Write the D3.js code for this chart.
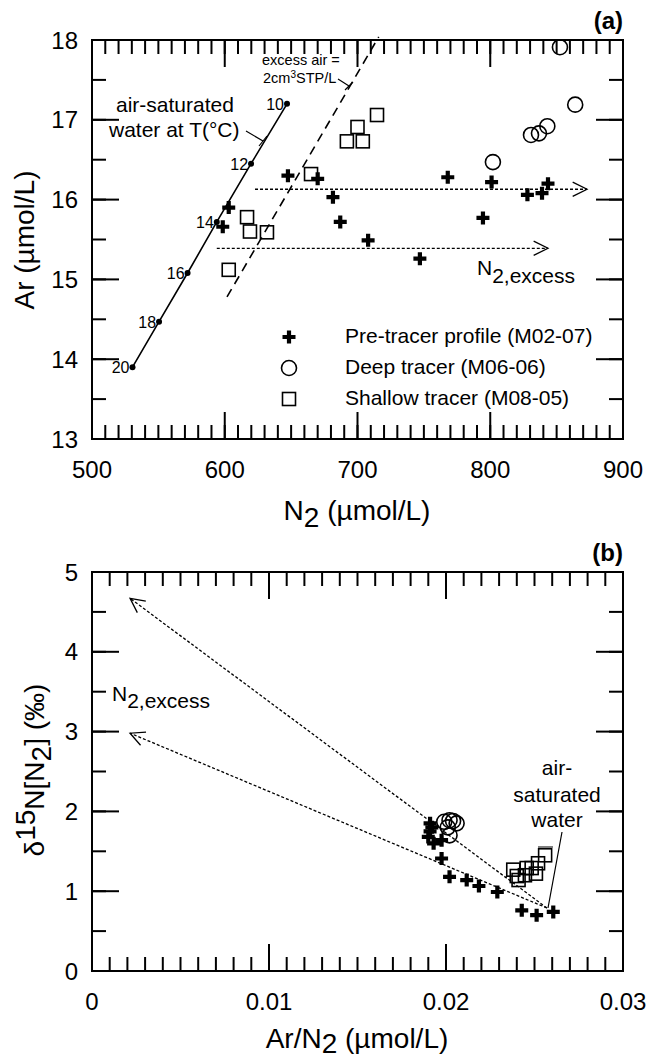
<!DOCTYPE html>
<html>
<head>
<meta charset="utf-8">
<script src="https://cdn.jsdelivr.net/npm/d3@7"></script>
<style>
body { margin: 0; background: #fff; }
</style>
</head>
<body>
<svg id="chart" width="646" height="1059" font-family="Liberation Sans, Arial, sans-serif"></svg>
<script>
// ---- panel (a): Ar vs N2 ----
var preN2 = [598.5, 603, 647.6, 670, 681.5, 687, 708, 747, 768, 794.5, 801, 828, 839, 843.5]
var preAr = [15.66, 15.9, 16.3, 16.26, 16.03, 15.72, 15.49, 15.26, 16.28, 15.77, 16.22, 16.06, 16.08, 16.2]
var deepN2 = [802, 830.7, 836.7, 843, 852.5, 864]
var deepAr = [16.47, 16.81, 16.83, 16.92, 17.91, 17.19]
var shallowN2 = [603, 616.8, 619, 631.8, 665, 692, 700, 704, 714.7]
var shallowAr = [15.12, 15.78, 15.6, 15.59, 16.32, 16.73, 16.91, 16.73, 17.06]
var aswT = [10, 12, 14, 16, 18, 20]
var aswN2 = [646.9, 619.8, 594, 572, 550.5, 530.5]
var aswAr = [17.2, 16.45, 15.72, 15.08, 14.47, 13.9]
var excessAirN2 = [601.7, 716]
var excessAirAr = [14.78, 18.04]
var arrowStartN2 = [622.8, 594]
var arrowEndN2 = [872.9, 843.5]
var arrowAr = [16.13, 15.39]
var xTicksA = [500, 600, 700, 800, 900]
var yTicksA = [13, 14, 15, 16, 17, 18]

// ---- panel (b): d15N vs Ar/N2 ----
var preRatio = [0.0191, 0.0192, 0.0191, 0.0190, 0.0193, 0.01975, 0.01975, 0.0202, 0.02117, 0.02186, 0.0229, 0.02428, 0.02512, 0.02606]
var preD15 = [1.85, 1.80, 1.75, 1.68, 1.60, 1.64, 1.41, 1.18, 1.14, 1.065, 0.99, 0.76, 0.70, 0.74]
var deepRatio = [0.0199, 0.0202, 0.0204, 0.0206, 0.0202, 0.0201]
var deepD15 = [1.87, 1.89, 1.88, 1.85, 1.70, 1.80]
var shallowRatio = [0.0238, 0.0240, 0.0241, 0.02446, 0.02456, 0.02484, 0.02508, 0.0252, 0.0256]
var shallowD15 = [1.27, 1.19, 1.14, 1.20, 1.29, 1.29, 1.22, 1.35, 1.45]
var excessFromRatio = 0.0257, excessFromD15 = 0.79
var excessToRatio = [0.00215, 0.00215]
var excessToD15 = [4.67, 2.98]
var xTicksB = [0, 0.01, 0.02, 0.03]
var xLabelsB = ["0", "0.01", "0.02", "0.03"]
var yTicksB = [0, 1, 2, 3, 4, 5]

var legendLabels = ["Pre-tracer profile (M02-07)", "Deep tracer (M06-06)", "Shallow tracer (M08-05)"]

var svg = d3.select("#chart")

var xa = d3.scaleLinear().domain([500, 900]).range([92, 623])
var ya = d3.scaleLinear().domain([13, 18]).range([439, 40])
var xb = d3.scaleLinear().domain([0, 0.03]).range([92, 623])
var yb = d3.scaleLinear().domain([0, 5]).range([971, 572])

// frame: inward ticks on all four sides, outline, tick labels
function frame(xs, ys, xMajor, yMajor, xMinorN, yMinorN, xLabels) {
  var g = svg.append("g")
  var x0 = xs.range()[0], x1 = xs.range()[1], y0 = ys.range()[0], y1 = ys.range()[1]
  function tickX(v, len) {
    g.append("line").attr("x1", xs(v)).attr("x2", xs(v)).attr("y1", y0).attr("y2", y0 - len).attr("stroke", "#000").attr("stroke-width", 2)
    g.append("line").attr("x1", xs(v)).attr("x2", xs(v)).attr("y1", y1).attr("y2", y1 + len).attr("stroke", "#000").attr("stroke-width", 2)
  }
  function tickY(v, len) {
    g.append("line").attr("y1", ys(v)).attr("y2", ys(v)).attr("x1", x0).attr("x2", x0 + len).attr("stroke", "#000").attr("stroke-width", 2)
    g.append("line").attr("y1", ys(v)).attr("y2", ys(v)).attr("x1", x1).attr("x2", x1 - len).attr("stroke", "#000").attr("stroke-width", 2)
  }
  xs.ticks(xMinorN).forEach(function(v) { tickX(v, 14) })
  xMajor.forEach(function(v) { tickX(v, 27) })
  ys.ticks(yMinorN).forEach(function(v) { tickY(v, 14) })
  yMajor.forEach(function(v) { tickY(v, 27) })
  g.append("rect").attr("x", x0).attr("y", y1).attr("width", x1 - x0).attr("height", y0 - y1)
    .attr("fill", "none").attr("stroke", "#000").attr("stroke-width", 2)
  g.selectAll(null).data(xMajor).enter().append("text")
    .attr("x", function(v) { return xs(v) }).attr("y", y0 + 39).attr("text-anchor", "middle").attr("font-size", 24)
    .text(function(v, i) { return xLabels ? xLabels[i] : v })
  g.selectAll(null).data(yMajor).enter().append("text")
    .attr("x", x0 - 14).attr("y", function(v) { return ys(v) + 8.5 }).attr("text-anchor", "end").attr("font-size", 24)
    .text(function(v) { return v })
}

frame(xa, ya, xTicksA, yTicksA, 40, 10, null)
frame(xb, yb, xTicksB, yTicksB, 30, 10, xLabelsB)

function crosses(g, xs, ys, x, y) {
  g.selectAll(null).data(xs).enter().append("path")
    .attr("d", function(v, i) { var px = x(v), py = y(ys[i]); return "M" + (px - 6.5) + "," + py + "H" + (px + 6.5) + "M" + px + "," + (py - 6.5) + "V" + (py + 6.5) })
    .attr("stroke", "#000").attr("stroke-width", 4.2).attr("fill", "none")
}
function circles(g, xs, ys, x, y) {
  g.selectAll(null).data(xs).enter().append("circle")
    .attr("cx", function(v) { return x(v) }).attr("cy", function(v, i) { return y(ys[i]) })
    .attr("r", 7.5).attr("fill", "none").attr("stroke", "#000").attr("stroke-width", 1.6)
}
function squares(g, xs, ys, x, y) {
  g.selectAll(null).data(xs).enter().append("rect")
    .attr("x", function(v) { return x(v) - 6.5 }).attr("y", function(v, i) { return y(ys[i]) - 6.5 })
    .attr("width", 13).attr("height", 13).attr("fill", "none").attr("stroke", "#000").attr("stroke-width", 1.6)
}
function arrow(g, x1, y1, x2, y2) {
  g.append("line").attr("x1", x1).attr("y1", y1).attr("x2", x2).attr("y2", y2)
    .attr("stroke", "#000").attr("stroke-width", 1.3).attr("stroke-dasharray", "3,2")
  var a = Math.atan2(y2 - y1, x2 - x1), L = 16, s = 0.46
  g.append("path")
    .attr("d", "M" + (x2 - L * Math.cos(a - s)) + "," + (y2 - L * Math.sin(a - s)) + "L" + x2 + "," + y2 +
      "L" + (x2 - L * Math.cos(a + s)) + "," + (y2 - L * Math.sin(a + s)))
    .attr("fill", "none").attr("stroke", "#000").attr("stroke-width", 1.3)
}

// ---- panel (a) content ----
var ga = svg.append("g")
ga.append("path")
  .attr("d", d3.line().x(function(v) { return xa(v) }).y(function(v, i) { return ya(aswAr[i]) })(aswN2))
  .attr("fill", "none").attr("stroke", "#000").attr("stroke-width", 1.6)
ga.selectAll(null).data(aswN2).enter().append("circle")
  .attr("cx", function(v) { return xa(v) }).attr("cy", function(v, i) { return ya(aswAr[i]) }).attr("r", 3)
ga.selectAll(null).data(aswT).enter().append("text")
  .attr("x", function(v, i) { return xa(aswN2[i]) - 3 }).attr("y", function(v, i) { return ya(aswAr[i]) + 6 })
  .attr("text-anchor", "end").attr("font-size", 16).text(function(v) { return v })
ga.append("line")
  .attr("x1", xa(excessAirN2[0])).attr("y1", ya(excessAirAr[0]))
  .attr("x2", xa(excessAirN2[1])).attr("y2", ya(excessAirAr[1]))
  .attr("stroke", "#000").attr("stroke-width", 1.6).attr("stroke-dasharray", "9,6")
arrowAr.forEach(function(v, i) { arrow(ga, xa(arrowStartN2[i]), ya(v), xa(arrowEndN2[i]), ya(v)) })

crosses(ga, preN2, preAr, xa, ya)
circles(ga, deepN2, deepAr, xa, ya)
squares(ga, shallowN2, shallowAr, xa, ya)

// annotations (a)
ga.append("text").attr("x", 116).attr("y", 112).attr("font-size", 21).text("air-saturated")
ga.append("text").attr("x", 109).attr("y", 137).attr("font-size", 21).text("water at T(°C)")
ga.append("path").attr("d", "M246,131L263,141M259,146L267,136").attr("stroke", "#000").attr("stroke-width", 1.2).attr("fill", "none")
ga.append("text").attr("x", 262).attr("y", 65).attr("font-size", 14.5).text("excess air =")
var t2 = ga.append("text").attr("x", 263).attr("y", 83).attr("font-size", 14.5)
t2.append("tspan").text("2cm")
t2.append("tspan").attr("dy", -5).attr("font-size", 10).text("3")
t2.append("tspan").attr("dy", 5).text("STP/L")
ga.append("path").attr("d", "M338,79L349,86M345,90L353,82").attr("stroke", "#000").attr("stroke-width", 1.2).attr("fill", "none")
var nx = ga.append("text").attr("x", 477).attr("y", 275).attr("font-size", 21)
nx.append("tspan").text("N")
nx.append("tspan").attr("dy", 8).text("2,excess")

// legend
var lg = ga.append("g")
crosses(lg, [0], [0], function() { return 289 }, function() { return 337 })
lg.append("circle").attr("cx", 289).attr("cy", 368).attr("r", 7.5).attr("fill", "none").attr("stroke", "#000").attr("stroke-width", 1.6)
lg.append("rect").attr("x", 282.5).attr("y", 392.5).attr("width", 13).attr("height", 13).attr("fill", "none").attr("stroke", "#000").attr("stroke-width", 1.6)
lg.selectAll(null).data(legendLabels).enter().append("text")
  .attr("x", 345).attr("y", function(d, i) { return 343 + i * 31 }).attr("font-size", 21).text(function(d) { return d })

// titles (a)
svg.append("text").attr("x", 623).attr("y", 29).attr("text-anchor", "end").attr("font-size", 24).attr("font-weight", "bold").text("(a)")
var xt = svg.append("text").attr("x", 357).attr("y", 520).attr("text-anchor", "middle").attr("font-size", 28)
xt.append("tspan").text("N")
xt.append("tspan").attr("dy", 7).text("2")
xt.append("tspan").attr("dy", -7).text(" (µmol/L)")
svg.append("text").attr("transform", "translate(34,240) rotate(-90)").attr("text-anchor", "middle").attr("font-size", 28).text("Ar (µmol/L)")

// ---- panel (b) content ----
var gb = svg.append("g")
excessToRatio.forEach(function(v, i) { arrow(gb, xb(excessFromRatio), yb(excessFromD15), xb(v), yb(excessToD15[i])) })
crosses(gb, preRatio, preD15, xb, yb)
circles(gb, deepRatio, deepD15, xb, yb)
squares(gb, shallowRatio, shallowD15, xb, yb)

var nb = gb.append("text").attr("x", 112).attr("y", 701).attr("font-size", 21)
nb.append("tspan").text("N")
nb.append("tspan").attr("dy", 7).text("2,excess")
;["air-", "saturated", "water"].forEach(function(s, i) {
  gb.append("text").attr("x", 557).attr("y", [775, 802, 827][i]).attr("text-anchor", "middle").attr("font-size", 21).text(s)
})
gb.append("path").attr("d", "M562,832L548,908M538,847L553,847").attr("stroke", "#000").attr("stroke-width", 1.2).attr("fill", "none")

svg.append("text").attr("x", 623).attr("y", 561).attr("text-anchor", "end").attr("font-size", 24).attr("font-weight", "bold").text("(b)")
var xt2 = svg.append("text").attr("x", 357).attr("y", 1048).attr("text-anchor", "middle").attr("font-size", 28)
xt2.append("tspan").text("Ar/N")
xt2.append("tspan").attr("dy", 5).text("2")
xt2.append("tspan").attr("dy", -5).text(" (µmol/L)")
var yt2 = svg.append("text").attr("transform", "translate(44,770) rotate(-90)").attr("text-anchor", "middle").attr("font-size", 28)
yt2.append("tspan").text("δ")
yt2.append("tspan").attr("dy", -9).text("15")
yt2.append("tspan").attr("dy", 9).text("N[N")
yt2.append("tspan").attr("dy", 7).text("2")
yt2.append("tspan").attr("dy", -7).text("] (‰)")
</script>
</body>
</html>
